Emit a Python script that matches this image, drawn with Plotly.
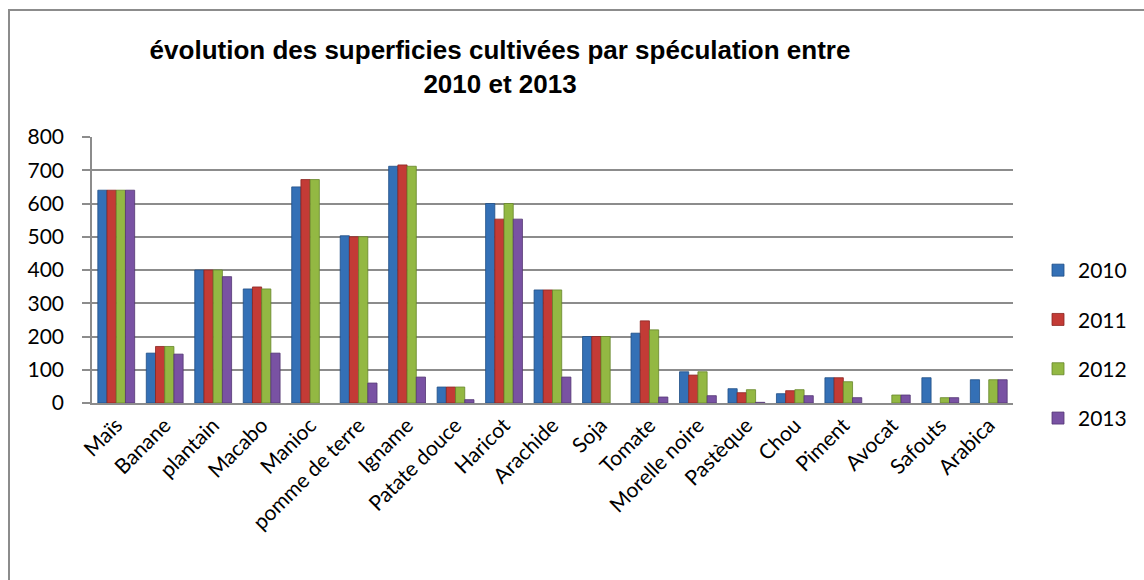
import plotly.graph_objects as go

categories = ["Maïs", "Banane", "plantain", "Macabo", "Manioc", "pomme de terre", "Igname",
              "Patate douce", "Haricot", "Arachide", "Soja", "Tomate", "Morelle noire",
              "Pastèque", "Chou", "Piment", "Avocat", "Safouts", "Arabica"]

v2010 = [640, 150, 400, 343, 650, 503, 712, 48, 600, 340, 200, 210, 94, 43, 28, 76, 0, 76, 70]
v2011 = [640, 170, 400, 349, 672, 500, 716, 48, 553, 340, 200, 247, 84, 31, 37, 76, 0, 0, 0]
v2012 = [640, 170, 400, 343, 672, 500, 712, 48, 600, 340, 200, 220, 94, 40, 40, 64, 24, 16, 70]
v2013 = [640, 147, 380, 150, 0, 60, 78, 10, 553, 78, 0, 18, 22, 2, 22, 16, 24, 16, 70]

series = [("2010", v2010, "#3470B6", "#1F4E85"),
          ("2011", v2011, "#C33B36", "#8A2421"),
          ("2012", v2012, "#93B843", "#66852A"),
          ("2013", v2013, "#7952A3", "#533672")]

title_text = "évolution des superficies cultivées par spéculation entre<br>2010 et 2013"

fig = go.Figure()
for name, vals, col, edge in series:
    fig.add_trace(go.Bar(
        x=categories, y=[v if v != 0 else None for v in vals], name=name, legendgroup=name,
        marker=dict(color=col, line=dict(color=edge, width=0.8)),
    ))

W, H = 1144, 580
L, R, T, B = 92, 131, 137, 177
pw, ph = W - L - R, H - T - B

def px_x(px):
    return (px - L) / pw

def px_y(py):
    return (H - B - py) / ph

fig.update_layout(
    width=W, height=H,
    margin=dict(l=L, r=R, t=T, b=B, autoexpand=False),
    paper_bgcolor="white", plot_bgcolor="white",
    barmode="group", bargap=0.24, bargroupgap=0,
    title=dict(text=title_text, x=500 / W, xanchor="center", xref="container",
               y=1 - 59 / H, yanchor="middle", yref="container",
               font=dict(family="Liberation Sans, Arial", size=26, color="black", weight="bold")),
    font=dict(family="Lato, Calibri, sans-serif", color="black"),
    yaxis=dict(range=[0, 800], dtick=100, showgrid=True, gridcolor="#8C8C8C", gridwidth=1.5,
               showline=True, linecolor="#8C8C8C", linewidth=1.5,
               ticks="outside", ticklen=8, tickcolor="#8C8C8C", tickwidth=1.5,
               ticklabelstandoff=14,
               tickfont=dict(size=21, family="Lato, Calibri, sans-serif"), zeroline=False),
    xaxis=dict(showline=True, linecolor="#8C8C8C", linewidth=1.5, ticks="",
               tickangle=-45, tickfont=dict(size=21, family="Lato, Calibri, sans-serif")),
    legend=dict(x=px_x(1038), xanchor="left", y=px_y(250), yanchor="top",
                font=dict(size=21, family="Lato, Calibri, sans-serif"),
                tracegroupgap=19, traceorder="grouped", itemwidth=30),
    shapes=[dict(type="rect", xref="paper", yref="paper",
                 x0=px_x(9), x1=px_x(1160), y0=px_y(600), y1=px_y(10),
                 line=dict(color="#8C8C8C", width=2), fillcolor="rgba(0,0,0,0)", layer="below")],
)

fig.write_html("out.html")
